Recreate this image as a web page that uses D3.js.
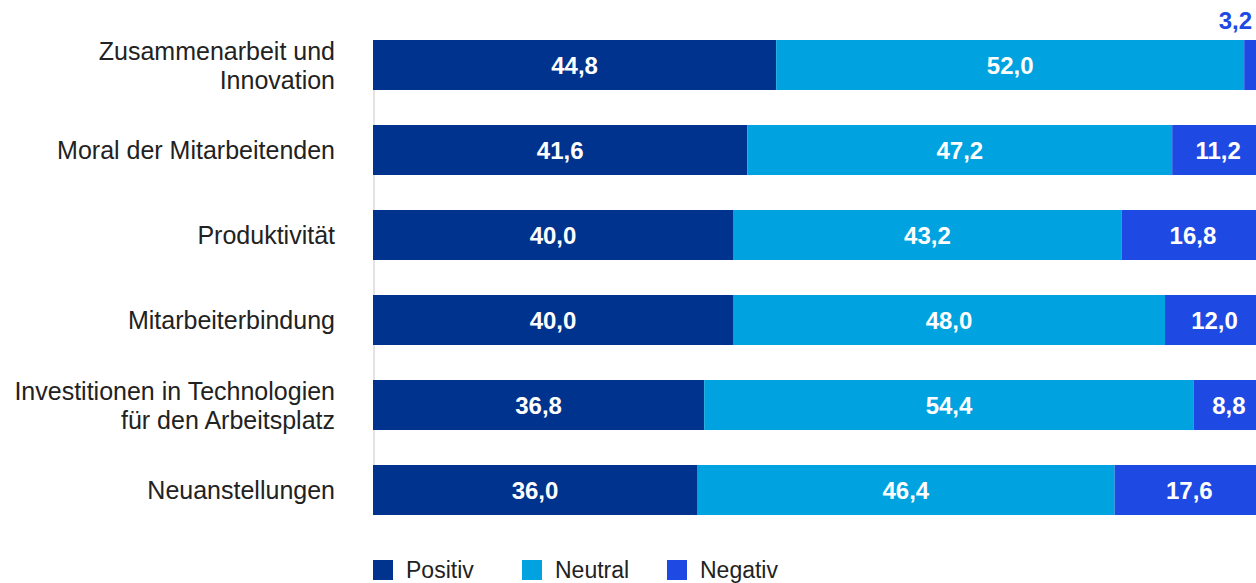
<!DOCTYPE html>
<html>
<head>
<meta charset="utf-8">
<script src="https://cdn.jsdelivr.net/npm/d3@7"></script>
<style>
  body { margin: 0; background: #fff; overflow: hidden; }
  svg { display: block; font-family: "Liberation Sans", Arial, sans-serif; }
</style>
</head>
<body>
<svg id="chart"></svg>
<script>
// data
const categories = [
    ["Zusammenarbeit und", "Innovation"],
    ["Moral der Mitarbeitenden"],
    ["Produktivität"],
    ["Mitarbeiterbindung"],
    ["Investitionen in Technologien", "für den Arbeitsplatz"],
    ["Neuanstellungen"]
];
const positiv = [44.8, 41.6, 40.0, 40.0, 36.8, 36.0];
const neutral = [52.0, 47.2, 43.2, 48.0, 54.4, 46.4];
const negativ = [3.2, 11.2, 16.8, 12.0, 8.8, 17.6];
const seriesNames = ["Positiv", "Neutral", "Negativ"];
const colors = ["#00338D", "#00A3DF", "#1E49E2"];

const W = 1256, H = 583;
const svg = d3.select("#chart").attr("width", W).attr("height", H);

const rows = categories.map((c, i) => ({ idx: i, Positiv: positiv[i], Neutral: neutral[i], Negativ: negativ[i] }));
const stack = d3.stack().keys(seriesNames)(rows);

// the 100% bar runs a bit past the right edge of the picture
const x = d3.scaleLinear().domain([0, 100]).range([373, 1273]);
const y = d3.scaleBand().domain(d3.range(categories.length))
    .range([40, 515]).paddingInner(35 / 85).paddingOuter(0);

const fmt = v => d3.format(".1f")(v).replace(".", ",");

// thin axis line
svg.append("line")
    .attr("x1", 374).attr("x2", 374)
    .attr("y1", y(0)).attr("y2", y(categories.length - 1) + y.bandwidth())
    .style("stroke", "#e3e3e3")
    .style("stroke-width", 2);

// bars
const layers = svg.append("g").selectAll("g")
    .data(stack)
    .join("g")
    .attr("fill", (d, i) => colors[i]);

layers.selectAll("rect")
    .data(d => d)
    .join("rect")
    .attr("x", d => x(d[0]))
    .attr("y", d => y(d.data.idx))
    .attr("width", d => x(d[1]) - x(d[0]))
    .attr("height", y.bandwidth());

// value labels
stack.forEach((layer, si) => {
    layer.forEach(d => {
        const v = d[1] - d[0];
        const small = v < 5;
        const cx = si === 2 ? (x(d[0]) + Math.min(x(d[1]), W + 8)) / 2 : (x(d[0]) + x(d[1])) / 2;
        svg.append("text")
            .attr("x", small ? W - 4 : cx)
            .attr("y", small ? y(d.data.idx) - 20 : y(d.data.idx) + y.bandwidth() / 2)
            .attr("dy", "0.36em")
            .style("text-anchor", small ? "end" : "middle")
            .style("font-size", "24px")
            .style("font-weight", "bold")
            .style("fill", small ? colors[si] : "white")
            .text(fmt(v));
    });
});

// category labels
categories.forEach((lines, i) => {
    const cy = y(i) + y.bandwidth() / 2;
    const t = svg.append("text")
        .attr("x", 335)
        .attr("y", cy - (lines.length - 1) * 14.5)
        .style("text-anchor", "end")
        .style("font-size", "25px")
        .style("fill", "#222");
    lines.forEach((l, j) => {
        t.append("tspan")
            .attr("x", 335)
            .attr("dy", j === 0 ? "0.36em" : 29)
            .text(l);
    });
});

// legend
const legendX = [373, 522, 667];
seriesNames.forEach((s, i) => {
    svg.append("rect")
        .attr("x", legendX[i]).attr("y", 560)
        .attr("width", 20).attr("height", 20)
        .attr("fill", colors[i]);
    svg.append("text")
        .attr("x", legendX[i] + 33).attr("y", 570)
        .attr("dy", "0.36em")
        .style("font-size", "23px")
        .style("fill", "#222")
        .text(s);
});
</script>
</body>
</html>
